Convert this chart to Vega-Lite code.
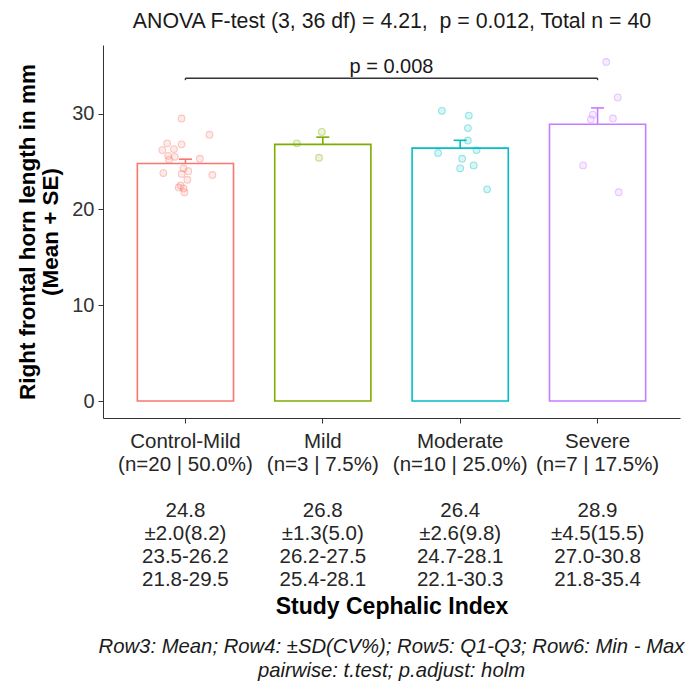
{
  "$schema": "https://vega.github.io/schema/vega-lite/v6.json",
  "width": 577,
  "height": 373,
  "autosize": {"type": "none"},
  "padding": {"left": 103, "top": 45, "right": 5, "bottom": 272},
  "background": "white",
  "config": {
    "font": "Liberation Sans",
    "view": {"stroke": null},
    "axis": {"grid": false}
  },
  "title": {
    "text": ["Row3: Mean; Row4: ±SD(CV%); Row5: Q1-Q3; Row6: Min - Max", "pairwise: t.test; p.adjust: holm"],
    "orient": "bottom",
    "anchor": "middle",
    "frame": "group",
    "fontSize": 20.3,
    "fontStyle": "italic",
    "fontWeight": "normal",
    "color": "#1a1a1a",
    "lineHeight": 24,
    "offset": 18
  },
  "datasets": {
    "summary": [
      {"group": "Control-Mild", "n": 20, "mean": 24.8, "sd": 2.0, "upper": 25.25},
      {"group": "Mild", "n": 3, "mean": 26.8, "sd": 1.3, "upper": 27.55},
      {"group": "Moderate", "n": 10, "mean": 26.4, "sd": 2.6, "upper": 27.22},
      {"group": "Severe", "n": 7, "mean": 28.9, "sd": 4.5, "upper": 30.6}
    ],
    "obs": [
      {"group": "Control-Mild", "value": 29.5, "jitter": -0.04},
      {"group": "Control-Mild", "value": 27.8, "jitter": 0.25},
      {"group": "Control-Mild", "value": 26.9, "jitter": -0.19},
      {"group": "Control-Mild", "value": 26.8, "jitter": -0.04},
      {"group": "Control-Mild", "value": 26.2, "jitter": -0.24},
      {"group": "Control-Mild", "value": 26.3, "jitter": -0.12},
      {"group": "Control-Mild", "value": 25.6, "jitter": -0.18},
      {"group": "Control-Mild", "value": 25.5, "jitter": -0.11},
      {"group": "Control-Mild", "value": 25.2, "jitter": -0.17},
      {"group": "Control-Mild", "value": 25.3, "jitter": 0.15},
      {"group": "Control-Mild", "value": 24.0, "jitter": 0.03},
      {"group": "Control-Mild", "value": 24.3, "jitter": -0.02},
      {"group": "Control-Mild", "value": 23.8, "jitter": -0.23},
      {"group": "Control-Mild", "value": 23.7, "jitter": -0.04},
      {"group": "Control-Mild", "value": 23.6, "jitter": 0.28},
      {"group": "Control-Mild", "value": 23.1, "jitter": 0.02},
      {"group": "Control-Mild", "value": 22.3, "jitter": -0.07},
      {"group": "Control-Mild", "value": 22.5, "jitter": -0.05},
      {"group": "Control-Mild", "value": 22.2, "jitter": -0.02},
      {"group": "Control-Mild", "value": 21.8, "jitter": -0.01},
      {"group": "Mild", "value": 25.4, "jitter": -0.04},
      {"group": "Mild", "value": 26.9, "jitter": -0.27},
      {"group": "Mild", "value": 28.1, "jitter": -0.01},
      {"group": "Moderate", "value": 30.3, "jitter": -0.19},
      {"group": "Moderate", "value": 29.8, "jitter": 0.09},
      {"group": "Moderate", "value": 28.5, "jitter": 0.08},
      {"group": "Moderate", "value": 27.2, "jitter": 0.08},
      {"group": "Moderate", "value": 26.2, "jitter": 0.17},
      {"group": "Moderate", "value": 25.9, "jitter": -0.23},
      {"group": "Moderate", "value": 25.3, "jitter": 0.02},
      {"group": "Moderate", "value": 24.6, "jitter": 0.14},
      {"group": "Moderate", "value": 24.3, "jitter": 0.0},
      {"group": "Moderate", "value": 22.1, "jitter": 0.28},
      {"group": "Severe", "value": 35.4, "jitter": 0.09},
      {"group": "Severe", "value": 31.7, "jitter": 0.21},
      {"group": "Severe", "value": 29.9, "jitter": -0.05},
      {"group": "Severe", "value": 29.5, "jitter": 0.16},
      {"group": "Severe", "value": 29.4, "jitter": -0.07},
      {"group": "Severe", "value": 24.6, "jitter": -0.15},
      {"group": "Severe", "value": 21.8, "jitter": 0.22}
    ],
    "pairs": [
      {"from": "Control-Mild", "to": "Severe", "y": 33.7, "tip": 33.5, "label": "p = 0.008"}
    ]
  },
  "layer": [
    {
      "data": {"name": "summary"},
      "mark": {"type": "bar", "fill": "white", "strokeWidth": 1.6},
      "encoding": {
        "x": {
          "field": "group",
          "type": "nominal",
          "sort": ["Control-Mild", "Mild", "Moderate", "Severe"],
          "scale": {"paddingInner": 0.3, "paddingOuter": 0.25},
          "axis": {
            "orient": "bottom",
            "title": "Study Cephalic Index",
            "titleFontSize": 23,
            "titleFontWeight": "bold",
            "titleColor": "#000000",
            "titlePadding": 6,
            "labelAngle": 0,
            "labelFontSize": 20.5,
            "labelLineHeight": 23,
            "labelColor": "#262626",
            "labelPadding": 8,
            "tickSize": 5,
            "tickColor": "#333333",
            "domainColor": "#333333",
            "labelExpr": "datum.value === 'Control-Mild' ? ['Control-Mild', '(n=20 | 50.0%)', '\u200b', '24.8', '±2.0(8.2)', '23.5-26.2', '21.8-29.5'] : datum.value === 'Mild' ? ['Mild', '(n=3 | 7.5%)', '\u200b', '26.8', '±1.3(5.0)', '26.2-27.5', '25.4-28.1'] : datum.value === 'Moderate' ? ['Moderate', '(n=10 | 25.0%)', '\u200b', '26.4', '±2.6(9.8)', '24.7-28.1', '22.1-30.3'] : ['Severe', '(n=7 | 17.5%)', '\u200b', '28.9', '±4.5(15.5)', '27.0-30.8', '21.8-35.4']"
          }
        },
        "y": {
          "field": "mean",
          "type": "quantitative",
          "scale": {"domain": [-1.77, 37.17], "nice": false, "zero": false},
          "axis": {
            "values": [0, 10, 20, 30],
            "title": ["Right frontal horn length in mm", "(Mean + SE)"],
            "titleFontSize": 22.5,
            "titleFontWeight": "bold",
            "titleColor": "#000000",
            "titleLineHeight": 23,
            "titlePadding": 9,
            "labelFontSize": 20,
            "labelColor": "#333333",
            "labelPadding": 4,
            "tickSize": 5,
            "tickColor": "#333333",
            "domainColor": "#333333"
          }
        },
        "y2": {"datum": 0},
        "stroke": {
          "field": "group",
          "type": "nominal",
          "scale": {"domain": ["Control-Mild", "Mild", "Moderate", "Severe"], "range": ["#F8766D", "#7CAE00", "#00BFC4", "#C77CFF"]},
          "legend": null
        }
      }
    },
    {
      "data": {"name": "obs"},
      "mark": {"type": "point", "shape": "circle", "filled": true, "size": 45, "opacity": 1, "fillOpacity": 0.15, "strokeOpacity": 0.38, "strokeWidth": 1.1},
      "encoding": {
        "x": {"field": "group", "type": "nominal", "sort": ["Control-Mild", "Mild", "Moderate", "Severe"], "axis": null},
        "xOffset": {"field": "jitter", "type": "quantitative", "scale": {"domain": [-0.5, 0.5]}},
        "y": {"field": "value", "type": "quantitative"},
        "fill": {
          "field": "group",
          "type": "nominal",
          "scale": {"domain": ["Control-Mild", "Mild", "Moderate", "Severe"], "range": ["#F8766D", "#7CAE00", "#00BFC4", "#C77CFF"]},
          "legend": null
        },
        "stroke": {"field": "group", "type": "nominal", "legend": null}
      }
    },
    {
      "data": {"name": "summary"},
      "mark": {"type": "rule", "strokeWidth": 1.6},
      "encoding": {
        "x": {"field": "group", "type": "nominal", "sort": ["Control-Mild", "Mild", "Moderate", "Severe"], "axis": null},
        "y": {"field": "mean", "type": "quantitative"},
        "y2": {"field": "upper"},
        "stroke": {"field": "group", "type": "nominal", "legend": null}
      }
    },
    {
      "data": {"name": "summary"},
      "mark": {"type": "tick", "orient": "horizontal", "size": 13, "thickness": 1.6, "opacity": 1},
      "encoding": {
        "x": {"field": "group", "type": "nominal", "sort": ["Control-Mild", "Mild", "Moderate", "Severe"], "axis": null},
        "y": {"field": "upper", "type": "quantitative"},
        "color": {
          "field": "group",
          "type": "nominal",
          "scale": {"domain": ["Control-Mild", "Mild", "Moderate", "Severe"], "range": ["#F8766D", "#7CAE00", "#00BFC4", "#C77CFF"]},
          "legend": null
        }
      }
    },
    {
      "data": {"name": "pairs"},
      "mark": {"type": "rule", "color": "#333333", "strokeWidth": 1.4},
      "encoding": {
        "x": {
          "field": "from",
          "type": "nominal",
          "axis": {
            "orient": "top",
            "title": "ANOVA F-test (3, 36 df) = 4.21,\u00a0 p = 0.012, Total n = 40",
            "titleFontSize": 21.3,
            "titleFontWeight": "normal",
            "titleColor": "#1a1a1a",
            "titlePadding": 14,
            "domain": false,
            "ticks": false,
            "labels": false
          }
        },
        "x2": {"field": "to"},
        "y": {"field": "y", "type": "quantitative"}
      }
    },
    {
      "data": {"name": "pairs"},
      "mark": {"type": "rule", "color": "#333333", "strokeWidth": 1.4},
      "encoding": {
        "x": {"field": "from", "type": "nominal", "axis": null},
        "y": {"field": "y", "type": "quantitative"},
        "y2": {"field": "tip"}
      }
    },
    {
      "data": {"name": "pairs"},
      "mark": {"type": "rule", "color": "#333333", "strokeWidth": 1.4},
      "encoding": {
        "x": {"field": "to", "type": "nominal", "axis": null},
        "y": {"field": "y", "type": "quantitative"},
        "y2": {"field": "tip"}
      }
    },
    {
      "data": {"name": "pairs"},
      "mark": {"type": "text", "fontSize": 20, "color": "#1a1a1a", "baseline": "bottom", "dy": -1},
      "encoding": {
        "x": {"value": {"expr": "(scale('x', 'Control-Mild') + scale('x', 'Severe') + bandwidth('x')) / 2"}},
        "y": {"field": "y", "type": "quantitative"},
        "text": {"field": "label"}
      }
    }
  ],
  "resolve": {"axis": {"x": "independent"}, "scale": {"xOffset": "independent"}}
}
